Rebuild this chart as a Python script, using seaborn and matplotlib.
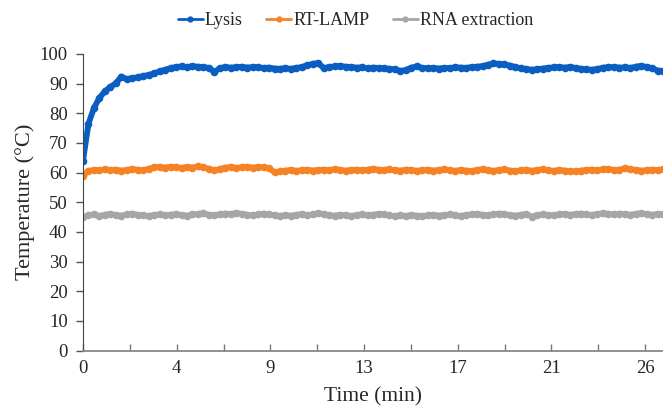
import numpy as np
import pandas as pd
import matplotlib
matplotlib.use("Agg")
import matplotlib.pyplot as plt
import seaborn as sns

# temperature readings, one every 0.25 min
lysis = [
    64.0, 76.5, 81.8, 85.2, 87.4, 88.9, 90.1, 92.4, 91.5, 91.9,
    92.1, 92.6, 92.9, 93.5, 94.1, 94.7, 95.2, 95.6, 95.8, 95.5,
    95.9, 95.7, 95.6, 95.3, 94.0, 95.2, 95.6, 95.4, 95.5, 95.7,
    95.4, 95.6, 95.5, 95.3, 95.4, 95.1, 95.0, 95.2, 95.0, 95.3,
    95.6, 96.2, 96.7, 96.9, 95.2, 95.6, 95.8, 96.0, 95.7, 95.6,
    95.4, 95.5, 95.2, 95.4, 95.3, 95.2, 95.0, 94.8, 94.3, 94.6,
    95.4, 95.8, 95.3, 95.2, 95.3, 95.1, 95.3, 95.2, 95.5, 95.4,
    95.3, 95.6, 95.7, 95.9, 96.4, 96.8, 96.7, 96.5, 96.1, 95.6,
    95.2, 94.9, 94.7, 94.8, 95.1, 95.3, 95.5, 95.6, 95.4, 95.6,
    95.3, 95.0, 94.8, 94.7, 94.9, 95.4, 95.5, 95.6, 95.4, 95.5,
    95.3, 95.7, 96.0, 95.6, 95.2, 94.4, 94.3,
]
rt_lamp = [
    59.0, 60.6, 60.9, 60.8, 61.1, 60.9, 61.0, 60.7, 60.9, 61.2,
    61.0, 60.8, 61.3, 61.8, 61.9, 61.7, 62.0, 61.8, 61.6, 61.9,
    61.7, 62.1, 61.8, 61.3, 60.8, 61.2, 61.7, 61.9, 61.6, 61.8,
    62.0, 61.7, 61.9, 61.8, 61.5, 60.1, 60.4, 60.7, 60.9, 60.6,
    60.8, 61.0, 60.7, 60.9, 61.0, 60.8, 61.2, 60.9, 60.7, 60.9,
    61.0, 60.8, 61.0, 61.3, 61.0, 60.9, 61.1, 60.8, 60.7, 61.0,
    60.9, 60.6, 60.8, 61.0, 60.7, 60.9, 61.1, 60.8, 60.6, 60.9,
    60.7, 60.5, 60.9, 61.2, 60.8, 60.6, 60.9, 61.1, 60.7, 60.5,
    60.8, 61.0, 60.6, 60.9, 61.1, 60.8, 60.6, 60.9, 60.7, 60.5,
    60.4, 60.7, 60.9, 61.0, 60.8, 61.1, 61.2, 60.9, 61.0, 61.4,
    61.2, 60.9, 60.7, 60.8, 61.0, 60.9, 61.1,
]
rna_extraction = [
    45.0, 45.6, 45.9, 45.4, 45.8, 46.1, 45.7, 45.5, 45.9, 46.2,
    45.8, 45.6, 45.4, 45.7, 45.9, 45.6, 45.8, 46.0, 45.7, 45.5,
    45.9, 46.1, 46.3, 45.8, 45.6, 45.9, 46.2, 46.0, 46.4, 46.1,
    45.8, 45.6, 45.9, 46.2, 45.9, 45.6, 45.4, 45.7, 45.5, 45.8,
    46.0, 45.7, 45.9, 46.3, 46.0, 45.7, 45.5, 45.8, 45.6, 45.4,
    45.7, 45.9, 45.6, 45.8, 46.1, 45.9, 45.6, 45.3, 45.6, 45.4,
    45.7, 45.5, 45.3, 45.6, 45.8, 45.5, 45.7, 45.9, 45.6, 45.4,
    45.7, 45.9, 46.1, 45.8, 45.6, 45.9, 46.2, 46.0, 45.7, 45.5,
    45.8, 46.0, 45.2, 45.7, 45.9, 45.7, 45.6, 45.9, 46.1, 45.8,
    46.0, 46.2, 45.9, 45.7, 46.0, 46.3, 46.1, 45.9, 46.2, 46.0,
    45.8, 46.1, 46.3, 46.0, 45.8, 46.1, 45.9,
]
series_names = ["Lysis", "RT-LAMP", "RNA extraction"]
colors = ["#0A5EC2", "#F58225", "#A6A6A6"]
time_min = np.arange(len(lysis)) * 0.25

# x labels as they appear on the category axis
tick_labels = ["0", "4", "9", "13", "17", "21", "26"]
label_step = 4.28

df = pd.concat([
    pd.DataFrame({"time": time_min, "temp": vals, "series": name})
    for name, vals in zip(series_names, [lysis, rt_lamp, rna_extraction])
], ignore_index=True)

sns.set_style("white")
plt.rcParams["font.family"] = ["Liberation Serif", "DejaVu Serif"]

fig = plt.figure(figsize=(6.64, 4.12), dpi=100)
ax = fig.add_axes([0.125, 0.149, 0.872, 0.72])

sns.lineplot(data=df, x="time", y="temp", hue="series", hue_order=series_names,
             palette=colors, marker="o", markersize=5.5, markeredgewidth=0,
             linewidth=4.2, ax=ax, legend=False)

major = [i * label_step for i in range(len(tick_labels))]
ax.set_xticks(major)
ax.set_xticklabels(tick_labels)
ax.set_xticks([m + label_step / 2 for m in major], minor=True)
ax.set_xlim(0, 26.45)
ax.set_ylim(0, 100)
ax.set_yticks(range(0, 101, 10))
ax.tick_params(axis="y", direction="out", length=5, width=1, color="#555555",
               labelsize=13.5, pad=6, left=True)
ax.tick_params(axis="x", which="both", direction="in", length=5, width=1,
               color="#777777", labelsize=13.5, pad=7, bottom=True)

for s in ["top", "right"]:
    ax.spines[s].set_visible(False)
ax.spines["left"].set_color("#444444")
ax.spines["bottom"].set_color("#888888")
ax.spines["bottom"].set_linewidth(1.3)

ax.set_xlabel("Time (min)", fontsize=15.5, labelpad=7)
ax.set_ylabel("Temperature (°C)", fontsize=16, labelpad=3)

handles = [plt.Line2D([], [], color=c, lw=2, marker="o", markersize=3.5) for c in colors]
fig.legend(handles, series_names, loc="upper center", bbox_to_anchor=(0.535, 1.01),
           ncol=3, frameon=False, fontsize=13, handlelength=1.4, handletextpad=0.1,
           columnspacing=1.3)

fig.savefig("out.png", dpi=100)
